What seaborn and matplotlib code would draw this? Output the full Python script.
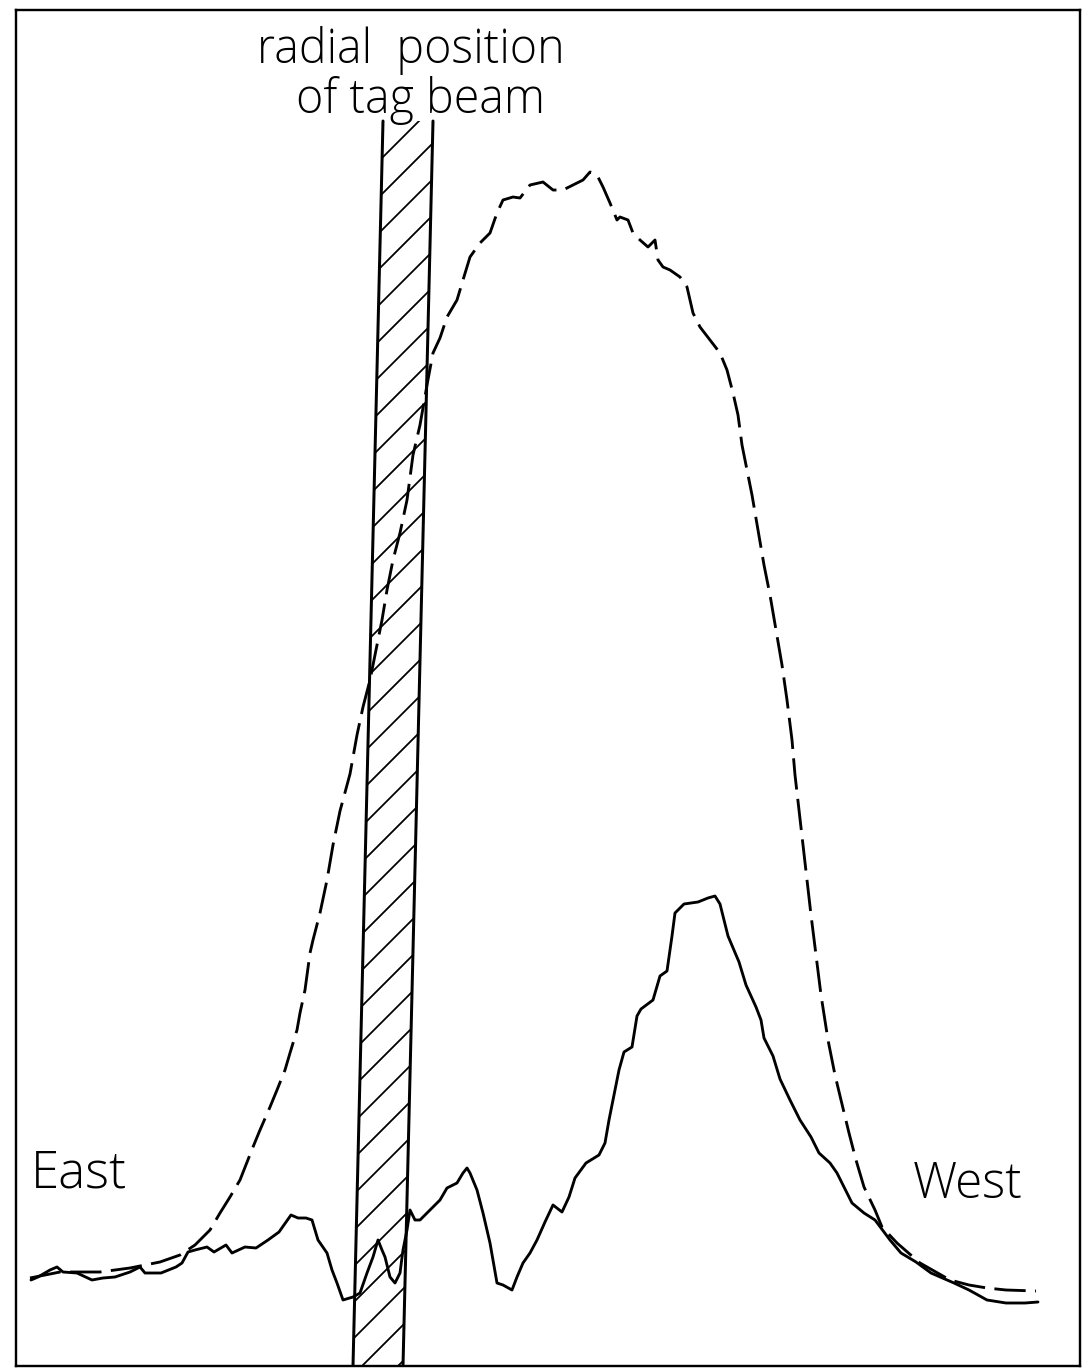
import numpy as np
import pandas as pd
import matplotlib
matplotlib.use("Agg")
import matplotlib.pyplot as plt
import seaborn as sns

# ---------------- data (radial position, signal level) ----------------
dashed_x = [30, 60, 100, 130, 160, 180, 195, 210, 220, 230, 240, 253, 260, 270, 277, 285,
            290, 297, 300, 305, 310, 313, 320, 327, 333, 340, 350, 357, 363, 370, 376, 382,
            387, 393, 400, 407, 413, 420, 427, 433, 440, 447, 457, 463, 470, 480, 490, 497,
            503, 513, 520, 530, 543, 553, 563, 573, 583, 590, 597, 603, 610, 617, 620, 628,
            633, 640, 648, 655, 658, 663, 670, 680, 687, 690, 693, 700, 710, 720, 727, 733,
            738, 742, 747, 752, 758, 764, 770, 776, 782, 787, 792, 795, 799, 803, 807, 811,
            816, 821, 828, 835, 841, 849, 856, 864, 875, 882, 897, 920, 950, 969, 987, 1006,
            1036]
dashed_y = [1278, 1272, 1272, 1268, 1262, 1255, 1245, 1230, 1213, 1197, 1180, 1147, 1130, 1107,
            1090, 1070, 1053, 1030, 1013, 990, 953, 940, 913, 880, 845, 811, 774, 735, 707, 680,
            650, 620, 590, 560, 533, 500, 455, 425, 385, 353, 338, 317, 300, 280, 257, 243, 233,
            213, 200, 197, 198, 185, 182, 190, 190, 185, 180, 172, 175, 187, 203, 220, 217, 220,
            233, 240, 247, 240, 260, 267, 270, 277, 287, 300, 313, 327, 340, 353, 370, 393, 415,
            445, 470, 495, 530, 565, 595, 630, 665, 700, 740, 775, 810, 845, 880, 915, 955, 995,
            1040, 1075, 1100, 1133, 1160, 1187, 1210, 1227, 1243, 1263, 1280, 1285, 1288, 1290,
            1291]

solid_x = [31, 38, 50, 57, 63, 77, 92, 103, 115, 130, 140, 145, 161, 176, 182, 188, 195, 207,
           214, 226, 232, 245, 256, 268, 279, 291, 298, 306, 312, 318, 327, 332, 337, 343, 353,
           360, 367, 373, 378, 382, 385, 390, 395, 400, 403, 407, 410, 415, 420, 430, 440, 447,
           457, 463, 467, 470, 477, 483, 490, 497, 503, 512, 517, 523, 530, 537, 545, 553, 562,
           569, 575, 586, 599, 605, 609, 613, 619, 624, 632, 637, 641, 653, 660, 667, 672, 675,
           684, 698, 708, 715, 720, 728, 739, 746, 756, 761, 764, 773, 780, 790, 800, 811, 819,
           830, 837, 852, 864, 875, 890, 901, 916, 931, 954, 969, 987, 1006, 1025, 1038]
solid_y = [1280, 1277, 1270, 1267, 1272, 1273, 1280, 1278, 1277, 1272, 1267, 1273, 1273, 1267,
           1263, 1252, 1250, 1247, 1252, 1245, 1253, 1247, 1248, 1240, 1232, 1215, 1218, 1218,
           1220, 1240, 1253, 1270, 1283, 1300, 1297, 1293, 1273, 1257, 1240, 1250, 1257, 1277,
           1283, 1273, 1250, 1230, 1210, 1220, 1220, 1210, 1200, 1188, 1183, 1173, 1168, 1173,
           1190, 1213, 1243, 1283, 1285, 1290, 1277, 1263, 1253, 1240, 1222, 1205, 1212, 1197,
           1178, 1163, 1155, 1143, 1120, 1100, 1070, 1052, 1047, 1016, 1009, 1000, 976, 971, 936,
           913, 904, 902, 898, 896, 904, 936, 962, 985, 1007, 1020, 1038, 1056, 1079, 1100, 1120,
           1137, 1153, 1163, 1173, 1203, 1213, 1220, 1240, 1253, 1262, 1273, 1283, 1290, 1300,
           1303, 1303, 1302]

# tag beam band edges (top / bottom)
beam_y = [121, 1366]
beam_left = [383, 353]
beam_right = [433, 403]

title_lines = ["radial  position", "of tag beam"]
side_labels = ["East", "West"]

# ---------------- figure ----------------
DPI = 216
sns.set_style("white")
plt.rcParams["font.family"] = ["Open Sans", "DejaVu Sans"]
plt.rcParams["hatch.linewidth"] = 0.6
plt.rcParams["hatch.color"] = "black"

fig = plt.figure(figsize=(1088 / DPI, 1370 / DPI), dpi=DPI)
ax = fig.add_axes([16 / 1088, 4 / 1370, (1080 - 16) / 1088, (1366 - 10) / 1370])
ax.set_xlim(16, 1080)
ax.set_ylim(1366, 10)

df_d = pd.DataFrame({"x": dashed_x, "y": dashed_y})
df_s = pd.DataFrame({"x": solid_x, "y": solid_y})

# hatched band
ax.fill_betweenx(beam_y, beam_left, beam_right, facecolor="none", edgecolor="black",
                 hatch="//", linewidth=0, zorder=1)
sns.lineplot(x=beam_left, y=beam_y, ax=ax, color="black", lw=1.0, sort=False,
             estimator=None, zorder=2)
sns.lineplot(x=beam_right, y=beam_y, ax=ax, color="black", lw=1.0, sort=False,
             estimator=None, zorder=2)

sns.lineplot(data=df_d, x="x", y="y", ax=ax, color="black", lw=0.95, sort=False,
             estimator=None, linestyle=(0, (11, 3.3)), zorder=3)
sns.lineplot(data=df_s, x="x", y="y", ax=ax, color="black", lw=0.95, sort=False,
             estimator=None, zorder=3)

tkw = dict(color="black", fontweight="light")
ax.text(411, 63, title_lines[0], ha="center", va="baseline", fontsize=15.5, **tkw)
ax.text(420, 113, title_lines[1], ha="center", va="baseline", fontsize=15.5, **tkw)
ax.text(31, 1188, side_labels[0], ha="left", va="baseline", fontsize=17, **tkw)
ax.text(1023, 1198, side_labels[1], ha="right", va="baseline", fontsize=16.5, **tkw)

ax.set_xticks([])
ax.set_yticks([])
ax.set_xlabel("")
ax.set_ylabel("")
for s in ax.spines.values():
    s.set_visible(True)
    s.set_color("black")
    s.set_linewidth(0.8)

fig.savefig("out.png", dpi=DPI, facecolor="white")
